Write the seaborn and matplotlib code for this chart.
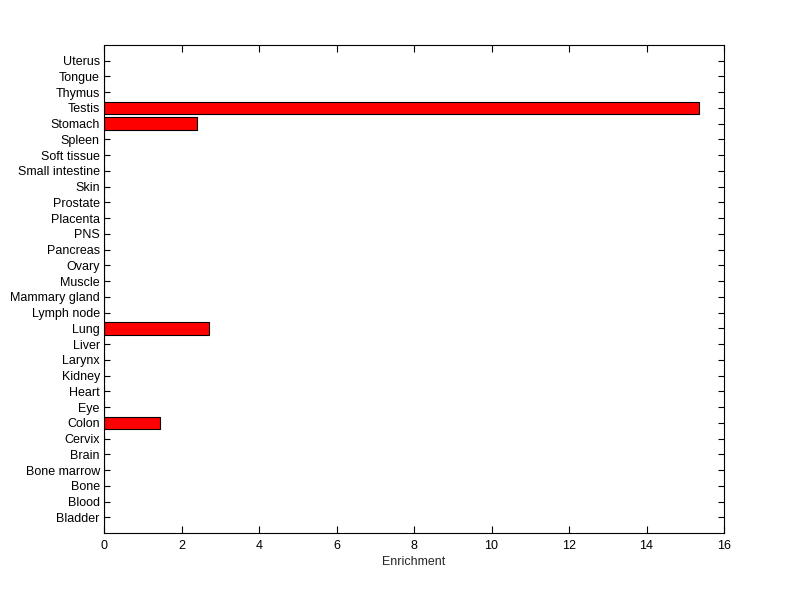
import numpy as np
import pandas as pd
from matplotlib import pyplot as plt
import seaborn as sns

# tissues, bottom to top as in the original figure
tissues = ["Bladder", "Blood", "Bone", "Bone marrow", "Brain", "Cervix", "Colon",
           "Eye", "Heart", "Kidney", "Larynx", "Liver", "Lung", "Lymph node",
           "Mammary gland", "Muscle", "Ovary", "Pancreas", "PNS", "Placenta",
           "Prostate", "Skin", "Small intestine", "Soft tissue", "Spleen",
           "Stomach", "Testis", "Thymus", "Tongue", "Uterus"]
enrichment = [0, 0, 0, 0, 0, 0, 1.45,
              0, 0, 0, 0, 0, 2.72, 0,
              0, 0, 0, 0, 0, 0,
              0, 0, 0, 0, 0,
              2.41, 15.35, 0, 0, 0]
xticks = [0, 2, 4, 6, 8, 10, 12, 14, 16]

df = pd.DataFrame({"tissue": tissues, "enrichment": enrichment})
order = tissues[::-1]  # seaborn puts the first category on top

sns.set_style("white")
plt.rcParams['font.family'] = ['Liberation Sans', 'DejaVu Sans']

fig = plt.figure(figsize=(8, 5.99), dpi=100)
ax = fig.add_axes([0.13, 0.11, 0.775, 0.815])

sns.barplot(data=df, y="tissue", x="enrichment", order=order, orient="h",
            color="#ff0000", saturation=1, edgecolor="black", linewidth=0.8,
            width=0.8, ax=ax, errorbar=None)

ax.set_xlim(0, 16)
ax.set_ylim(len(tissues), -1)
ax.set_xticks(xticks)
ax.set_xlabel("Enrichment", fontsize=9, labelpad=3)
ax.set_ylabel("")

for s in ax.spines.values():
    s.set_visible(True)
    s.set_color("black")
    s.set_linewidth(0.8)

ax.tick_params(axis="x", direction="in", length=5, width=0.8, top=True,
               bottom=True, labelsize=9, pad=5, colors="black")
ax.tick_params(axis="y", direction="in", length=4, width=0.8, left=True,
               right=True, labelsize=9, pad=3, colors="black")

fig.savefig("out.png", dpi=100, facecolor="white")
plt.close()
